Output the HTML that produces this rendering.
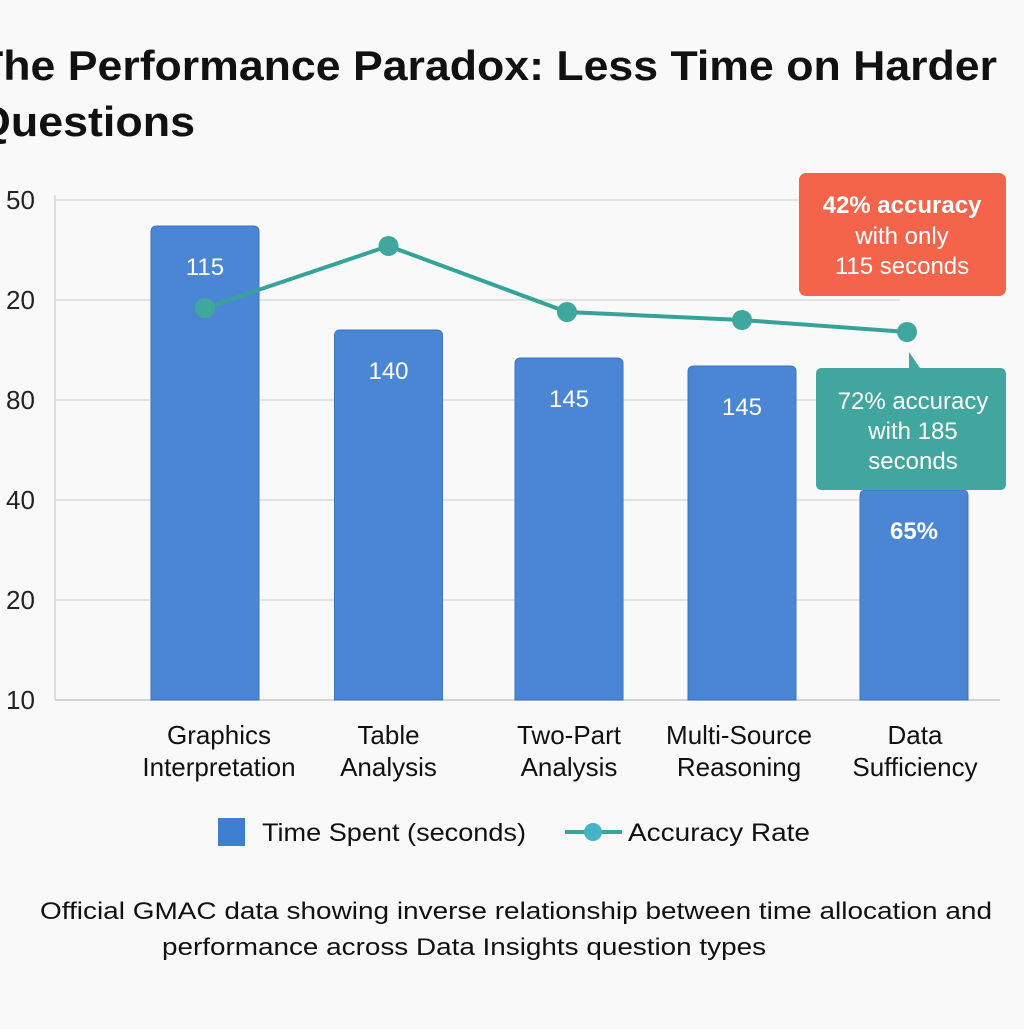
<!DOCTYPE html>
<html><head><meta charset="utf-8">
<style>
html,body{margin:0;padding:0;background:#f9f9f9;}
body{width:1024px;height:1024px;overflow:hidden;position:relative;font-family:"Liberation Sans","DejaVu Sans",sans-serif;}
svg text{font-family:"Liberation Sans","DejaVu Sans",sans-serif;}
</style></head>
<body>
<svg width="1024" height="1024" viewBox="0 0 1024 1024" id="chart">
<rect width="1024" height="1024" fill="#f9f9f9"/>
<text x="-24" y="80" font-size="42" font-weight="bold" fill="#111" textLength="1021" lengthAdjust="spacingAndGlyphs">The Performance Paradox: Less Time on Harder</text>
<text x="-24" y="136" font-size="42" font-weight="bold" fill="#111" textLength="219" lengthAdjust="spacingAndGlyphs">Questions</text>
<g id="grid"></g>
<g id="bars"></g>
<g id="line"></g>
<g id="xlabels"></g>
<rect x="799" y="173" width="207" height="123" rx="7" fill="#f4644a"/>
<text x="902" y="213" font-size="24" font-weight="bold" fill="#fff" text-anchor="middle">42% accuracy</text>
<text x="902" y="244" font-size="24" fill="#fff" text-anchor="middle">with only</text>
<text x="902" y="274" font-size="24" fill="#fff" text-anchor="middle">115 seconds</text>
<path d="M909 352 L920 368 L1000 368 Q1006 368 1006 375 L1006 484 Q1006 490 1000 490 L822 490 Q816 490 816 484 L816 374 Q816 368 822 368 L909 368 Z" fill="#41a69d"/>
<text x="913" y="409" font-size="24" fill="#fff" text-anchor="middle">72% accuracy</text>
<text x="913" y="439" font-size="24" fill="#fff" text-anchor="middle">with 185</text>
<text x="913" y="469" font-size="24" fill="#fff" text-anchor="middle">seconds</text>
<rect x="218" y="818" width="27" height="28" fill="#3f7fd0"/>
<text x="262" y="841" font-size="25" fill="#111" textLength="264" lengthAdjust="spacingAndGlyphs">Time Spent (seconds)</text>
<line x1="565" y1="832" x2="622" y2="832" stroke="#3aa39a" stroke-width="4"/>
<circle cx="593" cy="832" r="9" fill="#45b4c4"/>
<text x="628" y="841" font-size="25" fill="#111" textLength="182" lengthAdjust="spacingAndGlyphs">Accuracy Rate</text>
<text x="40" y="919" font-size="24" fill="#111" textLength="952" lengthAdjust="spacingAndGlyphs">Official GMAC data showing inverse relationship between time allocation and</text>
<text x="162" y="955" font-size="24" fill="#111" textLength="604" lengthAdjust="spacingAndGlyphs">performance across Data Insights question types</text>
</svg>
<script>
const categories = [["Graphics","Interpretation"],["Table","Analysis"],["Two-Part","Analysis"],["Multi-Source","Reasoning"],["Data","Sufficiency"]];
const timeValues = [237, 185, 171, 167, 105];
const barLabels = ["115","140","145","145","65%"];
const accuracyValues = [196, 227, 194, 190, 184];
const yTickValues = [0, 50, 100, 150, 200, 250];
const yTickLabels = ["10","20","40","80","20","50"];

const NS = "http://www.w3.org/2000/svg";
const yScale = v => 700 - v * 2;
const bandCenters = [205, 388.5, 569, 742, 914];
const xCenter = i => bandCenters[i];
function mk(tag, attrs, parent){ const e=document.createElementNS(NS,tag); for(const k in attrs) e.setAttribute(k,attrs[k]); parent.appendChild(e); return e; }

const grid = document.getElementById('grid');
const ax = mk('line',{x1:55,y1:195,x2:55,y2:700,stroke:'#d4d4d4','stroke-width':1.5},grid);


yTickValues.forEach((v,i)=>{
  const y = yScale(v);
  const gl = mk('line',{x1:55,y1:y,x2:i===0?1000:900,y2:y,stroke:i===0?'#c8c8c8':'#dadada','stroke-width':1.5},grid);
  
  
  const t = mk('text',{x:6,y:y+9,'font-size':26,fill:'#222'},grid);
  t.textContent = yTickLabels[i];
  
  
});

const bars = document.getElementById('bars');
timeValues.forEach((v,i)=>{
  const cx = xCenter(i), top = yScale(v);
  const r = mk('path',{d:`M${cx-54} 700 L${cx-54} ${top+6} Q${cx-54} ${top} ${cx-48} ${top} L${cx+48} ${top} Q${cx+54} ${top} ${cx+54} ${top+6} L${cx+54} 700 Z`,fill:'#4a86d4',stroke:'#3a74c4','stroke-width':1},bars);
  
  
  const t = mk('text',{x:cx,y:top+49,'font-size':24,fill:'#fff','text-anchor':'middle','font-weight':i===4?'bold':'normal'},bars);
  t.textContent = barLabels[i];
  
  
});

const line = document.getElementById('line');
const pts = accuracyValues.map((v,i)=>[xCenter(i)+ (i===4?-7:(i===2?-2:0)), yScale(v)]);
const pl = mk('polyline',{points:pts.map(p=>p.join(',')).join(' '),fill:'none',stroke:'#36a39a','stroke-width':4},line);


pts.forEach(p=>{
  const c = mk('circle',{cx:p[0],cy:p[1],r:10,fill:'#3fa79e'},line);
  
  
});

const xl = document.getElementById('xlabels');
categories.forEach((c,i)=>{
  c.forEach((s,j)=>{
    const t = mk('text',{x:xCenter(i)+(i===0?14:(i===4?1:(i===3?-3:0))),y:744+j*32,'font-size':26,fill:'#111','text-anchor':'middle'},xl);
    t.textContent = s;
    
    
  });
});
</script>
</body></html>
